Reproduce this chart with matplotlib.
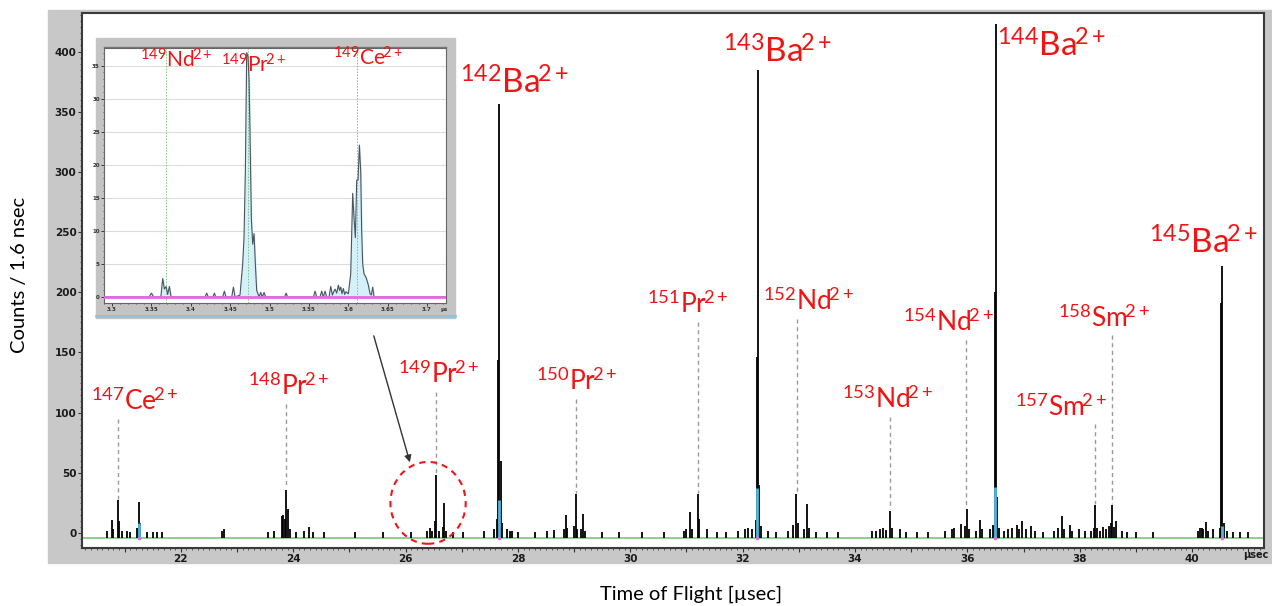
import numpy as np
import matplotlib
matplotlib.use("Agg")
import matplotlib.pyplot as plt
from matplotlib.patches import Rectangle, Ellipse
from matplotlib.lines import Line2D
from matplotlib.ticker import MultipleLocator

plt.rcParams['font.family'] = ['Lato', 'DejaVu Sans']
plt.rcParams['mathtext.fontset'] = 'custom'
plt.rcParams['mathtext.rm'] = 'Lato'
plt.rcParams['mathtext.it'] = 'Lato:italic'
plt.rcParams['mathtext.bf'] = 'Lato:bold'

# ---- main spectrum: time of flight (usec) and counts per bin ----
spec_tof = [20.68, 20.77, 20.80, 20.88, 20.90, 20.95, 21.04, 21.10, 21.22, 21.25, 21.27,
            21.40, 21.50, 21.58, 21.66, 22.74, 22.76,
            23.55, 23.66, 23.80, 23.82, 23.85, 23.88, 23.90, 23.94, 24.05, 24.19, 24.28, 24.35, 24.55,
            25.10, 25.60, 26.10,
            26.38, 26.43, 26.47, 26.52, 26.55, 26.60, 26.66, 26.68, 26.72, 26.85, 27.02,
            27.40, 27.58, 27.62, 27.65, 27.67, 27.69, 27.72, 27.80, 27.85, 27.90, 28.00,
            28.30, 28.52, 28.64, 28.82, 28.85, 28.88, 29.00, 29.03, 29.06, 29.12, 29.15, 29.20,
            29.50, 29.80, 30.20, 30.60,
            30.95, 31.00, 31.07, 31.10, 31.20, 31.23, 31.37, 31.55, 31.70,
            31.92, 32.04, 32.10, 32.16, 32.23, 32.25, 32.27, 32.29, 32.32, 32.45, 32.60,
            32.81, 32.90, 32.95, 32.98, 33.10, 33.15, 33.18, 33.30, 33.50, 33.70,
            34.30, 34.38, 34.45, 34.50, 34.55, 34.62, 34.65, 34.80, 34.90, 35.10, 35.30,
            35.60, 35.72, 35.77, 35.89, 35.96, 35.99, 36.02, 36.15, 36.22, 36.26, 36.40, 36.45,
            36.49, 36.51, 36.53, 36.56, 36.65, 36.72, 36.80, 36.88, 36.92, 36.98, 37.05, 37.13,
            37.20, 37.35,
            37.55, 37.62, 37.68, 37.72, 37.83, 37.87, 37.98, 38.10, 38.20, 38.25, 38.28, 38.31,
            38.36, 38.42, 38.47, 38.52, 38.55, 38.58, 38.61, 38.65, 38.75, 38.85, 39.00, 39.30,
            40.10, 40.14, 40.17, 40.20, 40.25, 40.28, 40.37, 40.50, 40.52, 40.54, 40.56, 40.62,
            40.72, 40.85, 41.00]
spec_counts = [2, 11, 3, 27, 10, 1.5, 1.5, 1, 4, 26, 8,
               1, 1, 1, 1.2, 1.5, 3,
               1, 2, 14, 15, 12, 36, 20, 3, 1, 1.5, 5, 1, 1,
               0.5, 0.8, 0.8,
               2, 4, 1.5, 10, 48, 1.5, 5, 25, 2, 1, 1,
               1.5, 3, 12, 144, 356, 60, 8, 3, 2, 1.5, 1,
               1, 1.5, 2.5, 3, 15, 4, 6, 32, 3, 3, 15.5, 1.5,
               1, 1, 1, 1,
               2, 3, 17.7, 3, 32, 12, 3, 1, 1,
               2, 3, 4, 3, 11, 146, 385, 40, 6, 1.5, 1,
               2, 6.5, 32, 8, 3, 24, 4, 1, 1, 1,
               1.5, 2, 3, 4, 2.5, 18.5, 4, 3.5, 1, 1, 1,
               1.5, 3, 4, 7.5, 6, 20, 3, 2, 11, 3, 3, 7,
               200, 423, 30, 4, 2, 3, 4, 7, 3, 10, 3, 6,
               2, 1,
               2, 4, 14, 3, 6.5, 2, 3, 1.5, 2, 4, 23, 4,
               2, 5, 3, 6, 8, 23, 5, 10, 2, 1, 1, 0.8,
               2, 4, 4, 3, 9, 2, 3, 4, 191, 221.5, 8, 1.5,
               1, 1, 1]

# highlighted (cyan) bins at the foot of the reference peaks
cyan_tof = [21.25, 27.66, 32.26, 36.50, 40.53]
cyan_counts = [8, 27, 37, 38, 6]

# ---- peak identifications ----
ion_mass = [142, 143, 144, 145, 147, 148, 149, 150, 151, 152, 153, 154, 157, 158]
ion_elem = ['Ba', 'Ba', 'Ba', 'Ba', 'Ce', 'Pr', 'Pr', 'Pr', 'Pr', 'Nd', 'Nd', 'Nd', 'Sm', 'Sm']
ion_tof = [27.67, 32.27, 36.51, 40.54, 20.88, 23.88, 26.55, 29.03, 31.21, 32.96, 34.62, 35.98, 38.28, 38.58]
ion_peak = [356, 385, 423, 221.5, 27, 36, 48, 32, 32, 32, 18.5, 20, 23, 23]

# ---- inset (zoom on the 149 isobars) ----
inset_tof = [3.290, 3.347, 3.350, 3.353,
             3.362, 3.3643, 3.3665, 3.3686, 3.3707, 3.3728, 3.375,
             3.418, 3.4202, 3.4222, 3.428, 3.4299, 3.4318,
             3.4405, 3.4426, 3.4447, 3.452, 3.4541, 3.4562,
             3.4625, 3.4659, 3.4676, 3.4693, 3.4710, 3.4727, 3.4740, 3.4752, 3.4769, 3.4786,
             3.4803, 3.4820, 3.4837,
             3.4868, 3.4888, 3.4908, 3.4930, 3.4952,
             3.519, 3.521, 3.523,
             3.5557, 3.5578, 3.5599, 3.5641, 3.5662, 3.5683, 3.5705, 3.5726, 3.5756, 3.5777,
             3.5798, 3.5815, 3.5832, 3.5853, 3.5874, 3.5889, 3.5904, 3.5920, 3.5937, 3.5954, 3.5971,
             3.6001, 3.6031, 3.6056, 3.6073, 3.6090, 3.6107, 3.6124, 3.6141, 3.6158, 3.6170,
             3.6183, 3.6200, 3.6225, 3.6255, 3.6276, 3.6293, 3.6310, 3.6327, 3.724]
inset_counts = [0, 0, 0.6, 0,
                0, 2.8, 1.2, 1.6, 0.4, 1.6, 0,
                0, 0.6, 0, 0, 0.6, 0,
                0, 0.9, 0, 0, 1.5, 0,
                0.3, 5, 9, 19, 37, 36.4, 33, 25, 12, 8,
                9.6, 5, 1,
                0, 0.7, 0, 0.7, 0,
                0, 0.6, 0,
                0, 0.9, 0, 0, 0.9, 0, 0.9, 0, 0, 1.6,
                0.3, 0.8, 1.2, 0.6, 1.8, 1.0, 1.5, 0.5, 1.3, 0.4, 0.8,
                0.5, 3.5, 15.7, 12, 9, 17.7, 17.7, 23, 19, 10,
                5, 3.5, 3, 1.8, 0.5, 0.3, 1.5, 0, 0]
inset_xticks = [3.30, 3.35, 3.40, 3.45, 3.50, 3.55, 3.60, 3.65, 3.70]
inset_xlabels = ['3.3', '3.35', '3.4', '3.45', '3.5', '3.55', '3.6', '3.65', '3.7']
inset_elem = ['Nd', 'Pr', 'Ce']
inset_line_tof = [3.3686, 3.4723, 3.6115]

# label placement (text centre x in usec, baseline in counts)
label_x = [27.945, 32.627, 37.504, 40.21, 21.18, 23.92, 26.59, 29.05, 31.02, 33.18, 34.585, 35.67, 37.66, 38.43]
label_y = [360, 386, 391, 227, 98, 110.5, 120.5, 114.7, 178.6, 181, 99.7, 163.7, 93.3, 167.2]
inset_label_x = [3.381, 3.480, 3.625]
inset_label_y = [34.1, 33.4, 34.4]

W, H = 1272, 606
def fx(px):
    return px / W
def fy(py):
    return 1 - py / H

RED = '#f01414'
BASE = -4.15

def ion_label(mass, elem):
    # pull the charge superscript a little closer to the symbol
    return r'$^{%d}\mathrm{%s}^{\!2+}$' % (mass, elem)

fig = plt.figure(figsize=(W / 100, H / 100), dpi=100)
fig.patches.append(Rectangle((fx(48), fy(563)), fx(1272) - fx(48), fy(10) - fy(563),
                             transform=fig.transFigure, color='#c8c8c8', zorder=-5))

ax = fig.add_axes([fx(82), fy(548), (1264 - 82) / W, (548 - 13) / H])
ax.set_xlim(20.24, 41.28)
ax.set_ylim(-12.5, 432)

ax.axhline(BASE, color='#86c986', lw=1.3, zorder=1)
ax.vlines(spec_tof, BASE, spec_counts, color='black', lw=1.3, zorder=2)
ax.vlines(cyan_tof, BASE, cyan_counts, color='#4fb6dd', lw=2.0, zorder=3)
ax.plot(cyan_tof, [BASE] * len(cyan_tof), 's', ms=2, color='#e070e0', zorder=4)

# isotope labels
for i in range(len(ion_mass)):
    big = ion_elem[i] == 'Ba'
    ax.text(label_x[i], label_y[i], ion_label(ion_mass[i], ion_elem[i]), color=RED,
            fontsize=24 if big else 19, ha='center', va='bottom', zorder=6)
    if not big:
        ax.plot([ion_tof[i], ion_tof[i]], [label_y[i] - 3, ion_peak[i] + 1],
                ls=(0, (3, 2.5)), color='#9a9a9a', lw=1, zorder=1)

# dashed circle and arrow to the inset
ax.add_patch(Ellipse((26.40, 25), 1.34, 68, fill=False, ls=(0, (3, 2.5)),
                     ec=RED, lw=1.5, zorder=5, clip_on=False))
ax.annotate('', xy=(26.09, 56.5), xytext=(25.42, 166),
            arrowprops=dict(arrowstyle='-|>', color='#333333', lw=1, mutation_scale=10))

for s in ax.spines.values():
    s.set_color('#3a3a3a')
    s.set_linewidth(1.5)

ax.set_yticks(range(0, 401, 50))
ax.yaxis.set_minor_locator(MultipleLocator(5))
xt = list(range(21, 42))
ax.set_xticks(xt)
ax.set_xticklabels([str(v) if v % 2 == 0 else '' for v in xt])
ax.xaxis.set_minor_locator(MultipleLocator(0.1))
ax.tick_params(which='major', direction='out', length=3, width=0.8, color='#333333',
               labelsize=7.5, labelcolor='#1a1a1a', pad=1)
ax.tick_params(which='minor', direction='out', length=1.5, width=0.6, color='#444444')
for lab in ax.get_xticklabels() + ax.get_yticklabels():
    lab.set_fontweight('bold')
    lab.set_family('DejaVu Sans')
fig.text(fx(1243), fy(555), 'µsec', fontsize=7, fontweight='bold', family='DejaVu Sans',
         color='#1a1a1a', ha='left', va='center')

fig.text(fx(20), fy(275), 'Counts / 1.6 nsec', rotation=90, fontsize=14.5,
         ha='center', va='center')
fig.text(fx(691), fy(594), 'Time of Flight [µsec]', fontsize=14.5, ha='center', va='center')

# ---- inset window ----
fig.patches.append(Rectangle((fx(96), fy(318)), fx(455) - fx(96), fy(38) - fy(318),
                             transform=fig.transFigure, color='#c4c4c4', zorder=5))
fig.lines.append(Line2D([fx(96), fx(455)], [fy(316), fy(316)], transform=fig.transFigure,
                        color='#8ec3e4', lw=2, zorder=5.5))
fig.lines.append(Line2D([fx(104), fx(446)], [fy(47), fy(47)], transform=fig.transFigure,
                        color='#777777', lw=1, zorder=5.5))

ins = fig.add_axes([fx(104), fy(303), 342 / W, 255 / H], zorder=6)
ins.set_xlim(3.2898, 3.7241)
ins.set_ylim(-0.9, 37.7)
ins.set_yticks(range(0, 36, 5))
for g in range(5, 36, 5):
    ins.axhline(g, color='#dcdcdc', lw=0.8, zorder=0)
ins.fill_between(inset_tof, 0, inset_counts, color='#d4f0f8', zorder=1)
ins.plot(inset_tof, inset_counts, color='#4a5560', lw=0.8, zorder=2)
ins.axhline(0, color='#e866e8', lw=2, zorder=3)
for t in inset_line_tof:
    ins.axvline(t, color='#7cc47c', lw=0.7, ls=(0, (1.5, 1.5)), zorder=1)
for i in range(3):
    ins.text(inset_label_x[i], inset_label_y[i], ion_label(149, inset_elem[i]),
             color=RED, fontsize=15, ha='center', va='bottom', zorder=4)
ins.set_xticks(inset_xticks)
ins.set_xticklabels(inset_xlabels)
ins.xaxis.set_minor_locator(MultipleLocator(0.01))
ins.yaxis.set_minor_locator(MultipleLocator(1))
ins.tick_params(which='major', direction='out', length=2, width=0.5, labelsize=4,
                labelcolor='#333333', pad=1)
ins.tick_params(which='minor', direction='out', length=1, width=0.4)
for lab in ins.get_xticklabels() + ins.get_yticklabels():
    lab.set_fontweight('bold')
    lab.set_family('DejaVu Sans')
for s in ins.spines.values():
    s.set_color('#666666')
    s.set_linewidth(0.8)
fig.text(fx(444), fy(310), 'µs', fontsize=4, fontweight='bold', family='DejaVu Sans',
         color='#333333', ha='center', va='center', zorder=7)

fig.savefig('out.png', dpi=100)
